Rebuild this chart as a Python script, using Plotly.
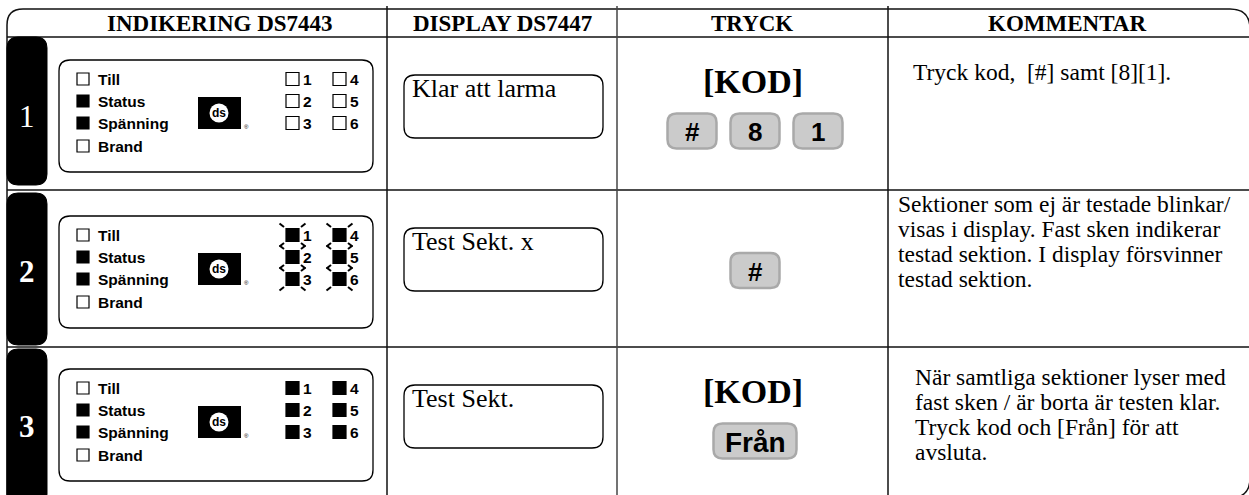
import plotly.graph_objects as go

# ---------------- data ----------------
headers = ["INDIKERING DS7443", "DISPLAY DS7447", "TRYCK", "KOMMENTAR"]
steps = ["1", "2", "3"]
step_bold = [False, True, True]
status_labels = ["Till", "Status", "Spänning", "Brand"]
status_on = [False, True, True, False]
zone_labels = ["1", "2", "3", "4", "5", "6"]
zone_state = ["off", "blink", "on"]
display_texts = ["Klar att larma", "Test Sekt. x", "Test Sekt."]
kod_shown = [True, False, True]
keys = [["#", "8", "1"], ["#"], ["Från"]]
comments = [
    ["Tryck kod,  [#] samt [8][1]."],
    ["Sektioner som ej är testade blinkar/",
     "visas i display. Fast sken indikerar",
     "testad sektion. I display försvinner",
     "testad sektion."],
    ["När samtliga sektioner lyser med",
     "fast sken / är borta är testen klar.",
     "Tryck kod och [Från] för att",
     "avsluta."],
]

# ---------------- layout constants ----------------
W, H = 1249, 495
col_x = [7, 387, 617, 888, 1250]
header_y = (9, 37)
row_top = [37, 190, 347]
row_bot = [190, 347, 500]
tab_span = [(37, 185), (193, 345), (349, 505)]
panel_top = [60, 216, 369]
comment_x = [911, 896, 913]
comment_y0 = [72, 204, 377]
SERIF = "Liberation Serif"
SANS = "Liberation Sans"

shapes = []
annotations = []


def rrect(x0, y0, x1, y1, r):
    return (f"M{x0+r},{y0} L{x1-r},{y0} Q{x1},{y0} {x1},{y0+r} "
            f"L{x1},{y1-r} Q{x1},{y1} {x1-r},{y1} L{x0+r},{y1} "
            f"Q{x0},{y1} {x0},{y1-r} L{x0},{y0+r} Q{x0},{y0} {x0+r},{y0} Z")


def text(x, y, s, size, family, color="black", xanchor="center", bold=False):
    if bold:
        s = f"<b>{s}</b>"
    annotations.append(dict(x=x, y=y, xref="x", yref="y", text=s, showarrow=False,
                            xanchor=xanchor, yanchor="middle",
                            font=dict(size=size, family=family, color=color)))


def line(x0, y0, x1, y1, color="#111", width=1.5):
    shapes.append(dict(type="line", xref="x", yref="y", x0=x0, y0=y0, x1=x1, y1=y1,
                       line=dict(color=color, width=width)))


def box(x0, y0, x1, y1, fill="black", lc="black", lw=1.2):
    shapes.append(dict(type="rect", xref="x", yref="y", x0=x0, y0=y0, x1=x1, y1=y1,
                       fillcolor=fill, line=dict(color=lc, width=lw)))


# outer frame
r = 16
shapes.append(dict(type="path", xref="x", yref="y",
                   path=(f"M7,505 L7,{9+r} Q7,9 {7+r},9 L{1250-20},9 Q1250,9 1250,29 "
                         f"L1250,478 Q1250,498 1230,498"),
                   line=dict(color="#111", width=1.5)))
# header line and row lines
line(7, header_y[1], 1250, header_y[1])
for rb in row_bot[:-1]:
    line(7, rb, 1250, rb)
# column dividers
for i, cx in enumerate(col_x[1:4]):
    line(cx, 6, cx, 500, color="#444" if i == 1 else "#111", width=1.5)

# headers
header_cx = [220, 502, 752, 1067]
for i, h in enumerate(headers):
    text(header_cx[i], 23, h, 23, SERIF, bold=True)

for ri in range(3):
    # black step tab
    t0, t1 = tab_span[ri]
    shapes.append(dict(type="path", xref="x", yref="y", path=rrect(7, t0, 47, t1, 11),
                       fillcolor="black", line=dict(color="black", width=1)))
    text(27, (row_top[ri] + row_bot[ri]) / 2 + 3, steps[ri], 31, SERIF, color="white",
         bold=step_bold[ri])

    # indicator panel
    pt = panel_top[ri]
    shapes.append(dict(type="path", xref="x", yref="y", path=rrect(59, pt, 373, pt + 112, 11),
                       fillcolor="white", line=dict(color="black", width=1.3)))
    label_y = [pt + 19, pt + 41, pt + 63, pt + 86]
    for li, lab in enumerate(status_labels):
        y = label_y[li]
        box(77, y - 6, 89, y + 6, fill="black" if status_on[li] else "white", lw=1.2)
        text(96, y, lab, 15.5, SANS, xanchor="left", bold=True)
    # logo
    ly = (label_y[1] + label_y[2]) / 2 + 1
    box(198, ly - 16, 241, ly + 16, fill="black", lw=0)
    shapes.append(dict(type="circle", xref="x", yref="y", x0=209.5, y0=ly - 9.5, x1=228.5, y1=ly + 9.5,
                       fillcolor="white", line=dict(width=0)))
    text(219, ly, "ds", 12, SANS, bold=True)
    text(246, ly + 14, "®", 6, SANS)
    # zones
    for zi, z in enumerate(zone_labels):
        zx = 286 if zi < 3 else 333
        zy = label_y[zi % 3]
        st = zone_state[ri]
        box(zx, zy - 6.5, zx + 13, zy + 6.5, fill="white" if st == "off" else "black", lw=1.2)
        text(zx + 15, zy, z, 15.5, SANS, xanchor="left", bold=True)
        if st == "blink":
            x0, y0, x1, y1 = zx, zy - 6.5, zx + 13, zy + 6.5
            for (cxp, cyp, dx, dy) in [(x0, y0, -1, -1), (x1, y0, 1, -1), (x0, y1, -1, 1), (x1, y1, 1, 1)]:
                line(cxp + dx * 2, cyp + dy * 1.5, cxp + dx * 6.5, cyp + dy * 5, color="black", width=2)

    # display box
    dt = row_top[ri] + 38
    shapes.append(dict(type="path", xref="x", yref="y", path=rrect(404, dt, 603, dt + 63, 11),
                       fillcolor="white", line=dict(color="black", width=1.3)))
    text(410, dt + 13, display_texts[ri], 26, SERIF, xanchor="left")

    # tryck
    mid = (row_top[ri] + row_bot[ri]) / 2
    if kod_shown[ri]:
        text(753, row_top[ri] + 44, "[KOD]", 34, SERIF, bold=True)
        ky = row_top[ri] + 94
    else:
        ky = mid + 2
    ks = keys[ri]
    widths = [49 if len(k) == 1 else 83 for k in ks]
    gap = 14
    total = sum(widths) + gap * (len(ks) - 1)
    x = 755 - total / 2
    for k, w in zip(ks, widths):
        shapes.append(dict(type="path", xref="x", yref="y", path=rrect(x, ky - 17.5, x + w, ky + 17.5, 9),
                           fillcolor="#cbcbcb", line=dict(color="#a9a9a9", width=2.5)))
        text(x + w / 2, ky + 1, k, 26 if len(k) == 1 else 28, SANS, bold=True)
        x += w + gap

    # comments
    for li, c in enumerate(comments[ri]):
        text(comment_x[ri], comment_y0[ri] + li * 25, c, 23.5, SERIF, xanchor="left")

fig = go.Figure()
fig.add_trace(go.Scatter(x=[0, W], y=[0, H], mode="markers", marker=dict(opacity=0), hoverinfo="skip",
                         showlegend=False))
fig.update_layout(
    width=W, height=H, margin=dict(l=0, r=0, t=0, b=0),
    paper_bgcolor="white", plot_bgcolor="white",
    xaxis=dict(range=[0, W], visible=False, fixedrange=True),
    yaxis=dict(range=[H, 0], visible=False, fixedrange=True),
    shapes=shapes, annotations=annotations, showlegend=False,
)
fig.write_html("out.html", config={"displayModeBar": False},
               post_script="document.body.style.margin='0';document.body.style.overflow='hidden';")
